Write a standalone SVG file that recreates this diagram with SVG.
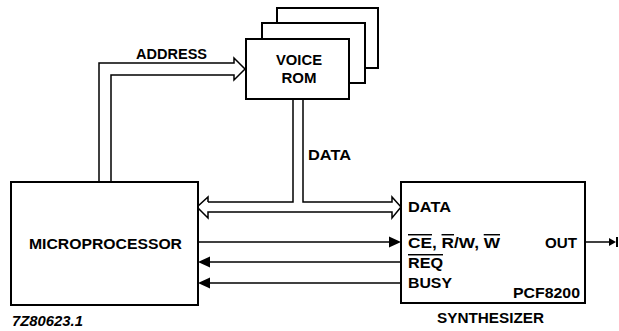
<svg xmlns="http://www.w3.org/2000/svg" width="619" height="331" viewBox="0 0 619 331">
<style>
.box{fill:#fff;stroke:#000;stroke-width:2}
.bus{fill:none;stroke:#000;stroke-width:1.5;stroke-linejoin:miter}
.ln{fill:none;stroke:#000;stroke-width:1.5}
.hd{fill:#000;stroke:none}
text{font-family:"Liberation Sans",Arial,sans-serif;font-size:14.5px;font-weight:bold;fill:#000}
.ol{text-decoration:overline}
</style>
<rect width="619" height="331" fill="#fff"/>
<g id="connectors">
<path class="bus" d="M99,182 V63 H234 V58 L245,69 L234,80 V75 H111 V182"/>
<path class="bus" d="M208,202 H293 V99"/>
<path class="bus" d="M303,99 V202 H392 V197 L401,207 L392,218 V212 H208 V218 L197,207 L208,197 V202"/>
<path class="ln" d="M198,242 H391"/>
<path class="hd" d="M389,236.5 L401,242 L389,247.5 Z"/>
<path class="ln" d="M401,262 H208"/>
<path class="hd" d="M210,256.5 L198,262 L210,267.5 Z"/>
<path class="ln" d="M401,283 H208"/>
<path class="hd" d="M210,277.5 L198,283 L210,288.5 Z"/>
<path class="ln" d="M585,242 H611"/>
<path class="hd" d="M609,238 L616,242 L609,246 Z"/>
<path class="ln" d="M617,237 V247" style="stroke-width:2"/>
<text x="136" y="59" font-size="12.5" textLength="71" lengthAdjust="spacingAndGlyphs">ADDRESS</text>
<text x="308" y="160" textLength="43" lengthAdjust="spacingAndGlyphs">DATA</text>
</g>
<g id="voice-rom">
<rect class="box" x="277" y="8" width="101" height="60"/>
<rect class="box" x="262" y="23" width="103" height="60"/>
<rect class="box" x="246" y="39" width="103" height="60"/>
<text x="299" y="65" text-anchor="middle" textLength="46" lengthAdjust="spacingAndGlyphs">VOICE</text>
<text x="299" y="83" text-anchor="middle" textLength="35" lengthAdjust="spacingAndGlyphs">ROM</text>
</g>
<g id="microprocessor">
<rect class="box" x="11" y="182" width="187" height="123"/>
<text x="29" y="249" textLength="153" lengthAdjust="spacingAndGlyphs">MICROPROCESSOR</text>
</g>
<g id="synthesizer">
<rect class="box" x="401" y="182" width="184" height="121"/>
<text x="408" y="212" textLength="43" lengthAdjust="spacingAndGlyphs">DATA</text>
<text x="408" y="248" textLength="92" lengthAdjust="spacingAndGlyphs"><tspan class="ol">CE</tspan>, <tspan class="ol">R</tspan>/W, <tspan class="ol">W</tspan></text>
<text x="408" y="268" class="ol" textLength="35" lengthAdjust="spacingAndGlyphs">REQ</text>
<text x="408" y="288" textLength="44" lengthAdjust="spacingAndGlyphs">BUSY</text>
<text x="545" y="248" textLength="32" lengthAdjust="spacingAndGlyphs">OUT</text>
<text x="513" y="298" textLength="67" lengthAdjust="spacingAndGlyphs">PCF8200</text>
<text x="437" y="323" textLength="107" lengthAdjust="spacingAndGlyphs">SYNTHESIZER</text>
</g>
<text x="12" y="326" font-size="12" font-style="italic" textLength="71" lengthAdjust="spacingAndGlyphs">7Z80623.1</text>
</svg>
